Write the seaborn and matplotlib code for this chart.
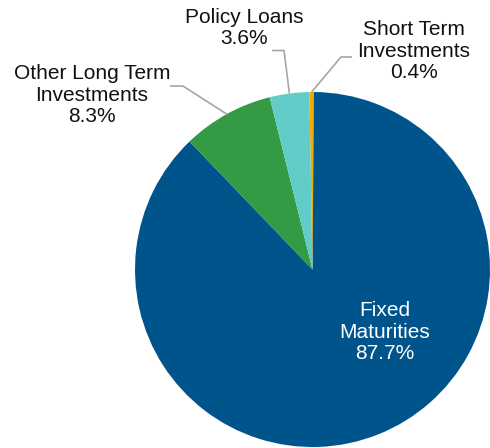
import numpy as np
import matplotlib
matplotlib.use("Agg")
import matplotlib.pyplot as plt
import seaborn as sns

sns.set_theme(style="white")
plt.rcParams['font.family'] = ['Liberation Sans', 'DejaVu Sans']

# Data (clockwise from 12 o'clock)
categories = ["Short Term\nInvestments", "Fixed\nMaturities", "Other Long Term\nInvestments", "Policy Loans"]
values = [0.4, 87.7, 8.3, 3.6]
colors = ["#F0AA00", "#00548C", "#349A44", "#62CDC8"]

W, H = 490, 448
fig = plt.figure(figsize=(W / 100, H / 100), dpi=100)
ax = fig.add_axes([0, 0, 1, 1])

cx, cy, r = 312.5, H - 269.5, 177.5
start = 91.0
wedges, _ = ax.pie(values, colors=colors, startangle=start, counterclock=False,
                   center=(cx, cy), radius=r, wedgeprops=dict(linewidth=0),
                   frame=True)
ax.set_xlim(0, W)
ax.set_ylim(0, H)
ax.set_aspect('auto')
ax.axis('off')

def edge_point(w):
    mid = np.deg2rad((w.theta1 + w.theta2) / 2)
    return cx + r * np.cos(mid), cy + r * np.sin(mid)

line_kw = dict(color="#A6A6A6", lw=1.2, solid_capstyle='butt')
fs = 15
ls = 1.15

# Short Term Investments
px, py = edge_point(wedges[0])
ax.plot([px, 341, 352], [py, H - 57, H - 57], **line_kw)
ax.text(414, H - 51, f"{categories[0]}\n{values[0]:.1f}%", ha="center", va="center",
        fontsize=fs, color="#111111", linespacing=ls)

# Fixed Maturities (inside)
ax.text(385, H - 332, f"{categories[1]}\n{values[1]:.1f}%", ha="center", va="center",
        fontsize=fs, color="white", linespacing=ls)

# Other Long Term Investments
px, py = edge_point(wedges[2])
ax.plot([170, 183, px], [H - 86, H - 86, py], **line_kw)
ax.text(92, H - 95, f"{categories[2]}\n{values[2]:.1f}%", ha="center", va="center",
        fontsize=fs, color="#111111", linespacing=ls)

# Policy Loans
px, py = edge_point(wedges[3])
ax.plot([272, 284, px], [H - 50.5, H - 50.5, py], **line_kw)
ax.text(244.5, H - 28, f"{categories[3]}\n{values[3]:.1f}%", ha="center", va="center",
        fontsize=fs, color="#111111", linespacing=ls)

fig.savefig("out.png", dpi=100, facecolor="white")
